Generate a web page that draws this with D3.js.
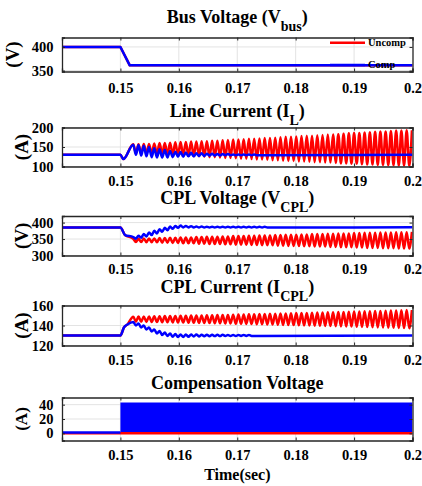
<!DOCTYPE html>
<html>
<head>
<meta charset="utf-8">
<script src="https://cdn.jsdelivr.net/npm/d3@7"></script>
<style>
	body { margin:0; background:#fff; }
	text { font-family:"Liberation Serif","Times New Roman",serif; font-weight:bold; fill:#000; }
</style>
</head>
<body>
<div id="chart"></div>
<script>

// Data

var timeTicks = [0.15,0.16,0.17,0.18,0.19,0.2],
	timeTickLabels = ["0.15","0.16","0.17","0.18","0.19","0.2"];

// oscillation clock: first crest and period of the ripple
var oscStart = 0.1522,
	oscPeriod = 0.0009;

// bus voltage, both cases identical
var busT = [0.14,0.15,0.1516,0.2],
	busV = [400,400,361,361];

// line current
var ilPreT = [0.14,0.15,0.1505],
	ilPreV = [130,130,119];
var ilUncompHi = [157,157,158,158,159,160,160,161,162,163,
	163,164,164,165,165,166,166,167,168,169,
	169,170,171,171,172,173,173,174,175,176,
	176,177,178,179,179,180,181,182,182,183,
	184,185,186,186,187,188,189,190,190,191,
	192,192,193,193];
var ilUncompLo = [134,133,133,132,131,131,130,129,128,127,
	127,126,126,125,124,124,123,122,122,121,
	120,120,119,118,118,117,116,116,115,114,
	114,113,113,112,111,111,110,110,109,108,
	108,107,107,106,105,105,104,104,103,103,
	102,102,101];
var ilCompHi = [156,155,153,150,147,144,142,140,138,137,136,135,134,134,133,133,132,132,132,131,131,131,131,131],
	ilCompLo = [130,128,126,124,123,123,123,124,125,125,126,126,127,127,128,128,128,129,129,129,129,129,129,129],
	ilCompEnd = 130;

// CPL voltage
var vcPreT = [0.14,0.15,0.1508],
	vcPreV = [385,385,362];
var vcUncompHi = [351,351,352,352,352,353,353,354,354,355,
	355,355,356,356,357,357,357,358,358,359,
	359,359,360,360,361,361,361,362,362,363,
	363,363,364,364,365,365,365,366,366,367,
	367,367,368,368,369,369,369,370,370,370,
	371,371,371,372];
var vcUncompLo = [341,341,340,340,340,339,339,338,338,337,
	337,337,336,336,335,335,335,334,334,333,
	333,333,332,332,331,331,331,330,330,329,
	329,329,328,328,327,327,327,326,326,325,
	325,325,324,324,323,323,323,322,322,322,
	321,321,321];
var vcCompHi = [356,360,365,370,375,380,384,388,390,391,390,389,388,388,387,387,387,387,387,387,387,387,387,387,387,387],
	vcCompLo = [351,354,358,362,367,372,377,381,384,385,385,385,385,385,385,385,385,385,385,385,385,385,385,385,385,385],
	vcCompEnd = 386;

// CPL current
var icPreT = [0.14,0.15,0.1506,0.1512],
	icPreV = [130,130,138,141];
var icUncompHi = [148.8,148.9,149,149.1,149.2,149.3,149.4,149.5,149.6,149.7,
	149.8,149.9,150,150.1,150.2,150.3,150.4,150.5,150.6,150.8,
	150.9,151,151.2,151.3,151.4,151.6,151.7,151.8,152,152.1,
	152.2,152.4,152.5,152.6,152.8,152.9,153,153.2,153.3,153.5,
	153.6,153.7,153.9,154,154.2,154.3,154.5,154.6,154.8,154.9,
	155.1,155.2,155.4,155.5];
var icUncompLo = [143.8,143.7,143.6,143.5,143.4,143.3,143.2,143.1,143,142.9,
	142.8,142.7,142.6,142.5,142.4,142.3,142.2,142.1,142,141.8,
	141.7,141.6,141.4,141.3,141.2,141,140.9,140.8,140.6,140.5,
	140.4,140.2,140.1,140,139.8,139.7,139.6,139.4,139.3,139.1,
	139,138.9,138.7,138.6,138.4,138.3,138.1,138,137.8,137.7,
	137.5,137.4,137.2];
var icCompHi = [143.5,142,140,138,136,134.5,133,132,131.5,131,131,131,131,130.8,130.8,130.8,130.7,130.7,130.6,130.6,130.5,130.5,130.5],
	icCompLo = [140,138,136,134,132,130.5,129.5,128.8,128.5,128.6,128.8,129,129.1,129.2,129.3,129.4,129.4,129.5,129.5,129.5,129.6,129.6,129.6],
	icCompEnd = 130;

// compensation voltage: flat before 0.15, switching band after
var cvUncompT = [0.14,0.2],
	cvUncompV = [0,0];
var cvCompT = [0.14,0.15],
	cvCompV = [1,1];
var cvBandT = [0.15,0.2],
	cvBandLo = [1,1],
	cvBandHi = [43,43];

var legendNames = ["Uncomp","Comp"],
	colUncomp = "#ff0000",
	colComp = "#0000ff";


// helpers

function zip(ts,vs){ return ts.map(function(t,i){return [t,vs[i]]}); }

function osc(preT,preV,hi,lo,endV){
	var pts = zip(preT,preV);
	hi.forEach(function(h,i){
		pts.push([oscStart+i*oscPeriod,h]);
		if(i<lo.length) pts.push([oscStart+(i+0.5)*oscPeriod,lo[i]]);
	});
	if(endV!==undefined) pts.push([0.2,endV]);
	return pts;
}


// Layout

var W = 422, H = 486;

var svg = d3.select("#chart").append("svg")
	.attr("width",W).attr("height",H);

var X = d3.scaleLinear().domain([0.14,0.2]).range([62,412.5]);

var panels = [
	{title:["Bus Voltage (V","bus",")"], titleY:22.7, ylab:"(V)", ylabX:12.5,
	 top:37.5, bot:71.5, dom:[348,420], ticks:[350,400], tickPad:11,
	 lines:[{pts:zip(busT,busV),c:colUncomp,lin:true},{pts:zip(busT,busV),c:colComp,lin:true}]},
	{title:["Line Current (I","L",")"], titleY:116.5, ylab:"(A)", ylabX:21.5,
	 top:127.5, bot:166.5, dom:[100,200], ticks:[100,150,200], tickPad:9,
	 lines:[{pts:osc(ilPreT,ilPreV,ilUncompHi,ilUncompLo),c:colUncomp},
	        {pts:osc(ilPreT,ilPreV,ilCompHi,ilCompLo,ilCompEnd),c:colComp}]},
	{title:["CPL Voltage (V","CPL",")"], titleY:203.5, ylab:"(V)", ylabX:21.5,
	 top:216, bot:255.5, dom:[300,420], ticks:[300,350,400], tickPad:8.5,
	 lines:[{pts:osc(vcPreT,vcPreV,vcUncompHi,vcUncompLo),c:colUncomp},
	        {pts:osc(vcPreT,vcPreV,vcCompHi,vcCompLo,vcCompEnd),c:colComp}]},
	{title:["CPL Current (I","CPL",")"], titleY:292.5, ylab:"(A)", ylabX:21.5,
	 top:305.5, bot:345.5, dom:[120,160], ticks:[120,140,160], tickPad:9,
	 lines:[{pts:osc(icPreT,icPreV,icUncompHi,icUncompLo),c:colUncomp},
	        {pts:osc(icPreT,icPreV,icCompHi,icCompLo,icCompEnd),c:colComp}]},
	{title:["Compensation Voltage","",""], titleY:388.8, ylab:"(A)", ylabX:21.5,
	 top:397.5, bot:440.5, dom:[-10,50], ticks:[0,20,40], tickPad:9.5,
	 lines:[{pts:zip(cvUncompT,cvUncompV),c:colUncomp,lin:true},{pts:zip(cvCompT,cvCompV),c:colComp,lin:true}],
	 band:{t:cvBandT,lo:cvBandLo,hi:cvBandHi}}
];

panels.forEach(function(p,k){

	var Y = d3.scaleLinear().domain(p.dom).range([p.bot,p.top]);
	var g = svg.append("g");

	g.append("clipPath").attr("id","clip"+k).append("rect")
		.attr("x",X.range()[0]).attr("y",p.top)
		.attr("width",X.range()[1]-X.range()[0]).attr("height",p.bot-p.top);

	// grid
	g.selectAll(".gx").data(timeTicks.slice(0,-1)).enter().append("line")
		.attr("x1",function(d){return X(d)}).attr("x2",function(d){return X(d)})
		.attr("y1",p.top).attr("y2",p.bot)
		.style("stroke","#dcdcdc").style("stroke-width",0.8);
	g.selectAll(".gy").data(p.ticks).enter().append("line")
		.attr("x1",X.range()[0]).attr("x2",X.range()[1])
		.attr("y1",function(d){return Y(d)}).attr("y2",function(d){return Y(d)})
		.style("stroke","#dcdcdc").style("stroke-width",0.8);

	var plot = g.append("g").attr("clip-path","url(#clip"+k+")");

	if(p.band){
		plot.append("path")
			.datum(p.band.t.map(function(t,i){return {t:t,lo:p.band.lo[i],hi:p.band.hi[i]}}))
			.attr("d",d3.area().x(function(d){return X(d.t)}).y0(function(d){return Y(d.lo)}).y1(function(d){return Y(d.hi)}))
			.style("fill",colComp);
	}

	p.lines.forEach(function(s){
		plot.append("path").datum(s.pts)
			.attr("d",d3.line().x(function(d){return X(d[0])}).y(function(d){return Y(d[1])})
				.curve(s.lin ? d3.curveLinear : d3.curveMonotoneX))
			.style("fill","none").style("stroke",s.c).style("stroke-width",2.5)
			.style("stroke-linejoin","round");
	});

	// box and inward ticks
	var ax = g.append("g").attr("transform","translate(0,"+p.bot+")")
		.call(d3.axisBottom(X).tickValues(timeTicks).tickFormat(function(d,i){return timeTickLabels[i]})
			.tickSize(-3).tickPadding(p.tickPad));
	g.append("g").attr("transform","translate(0,"+p.top+")")
		.call(d3.axisTop(X).tickValues(timeTicks).tickFormat("").tickSize(-3));
	var ay = g.append("g").attr("transform","translate("+X.range()[0]+",0)")
		.call(d3.axisLeft(Y).tickValues(p.ticks).tickSize(-3).tickPadding(8.5));
	g.append("g").attr("transform","translate("+X.range()[1]+",0)")
		.call(d3.axisRight(Y).tickValues(p.ticks).tickFormat("").tickSize(-3));

	g.selectAll(".domain").style("stroke","#262626").style("stroke-width",1.3);
	g.selectAll(".tick line").style("stroke","#262626");
	ax.selectAll("text").style("font-size","14.5px").style("font-family","Liberation Serif").style("font-weight","bold").attr("fill","#000");
	ay.selectAll("text").style("font-size","14.5px").style("font-family","Liberation Serif").style("font-weight","bold").attr("fill","#000");

	// title
	var tt = g.append("text").attr("x",237.3).attr("y",p.titleY)
		.attr("text-anchor","middle").style("font-size","18px");
	tt.append("tspan").text(p.title[0]);
	if(p.title[1]){
		tt.append("tspan").attr("dy",8.5).style("font-size","14px").text(p.title[1]);
		tt.append("tspan").attr("dy",-8.5).text(p.title[2]);
	}

	// y label
	g.append("text").attr("transform","translate("+p.ylabX+","+((p.top+p.bot)/2)+")rotate(-90)")
		.attr("text-anchor","middle").attr("dy","0.35em")
		.style("font-size",k==4 ? "17px" : "19px").text(p.ylab);

	// legend in first panel
	if(k==0){
		var lg = g.selectAll(".leg").data(legendNames).enter().append("g")
			.attr("transform",function(d,i){return "translate(330,"+(42.7+i*22.3)+")"});
		lg.append("line").attr("x1",0).attr("x2",35)
			.style("stroke",function(d,i){return i==0 ? colUncomp : colComp}).style("stroke-width",2.5);
		lg.append("text").attr("x",38).attr("dy","0.33em").style("font-size","10.5px").text(function(d){return d});
	}
});

svg.append("text").attr("x",237.3).attr("y",479.5).attr("text-anchor","middle")
	.style("font-size","16px").text("Time(sec)");

</script>
</body>
</html>
